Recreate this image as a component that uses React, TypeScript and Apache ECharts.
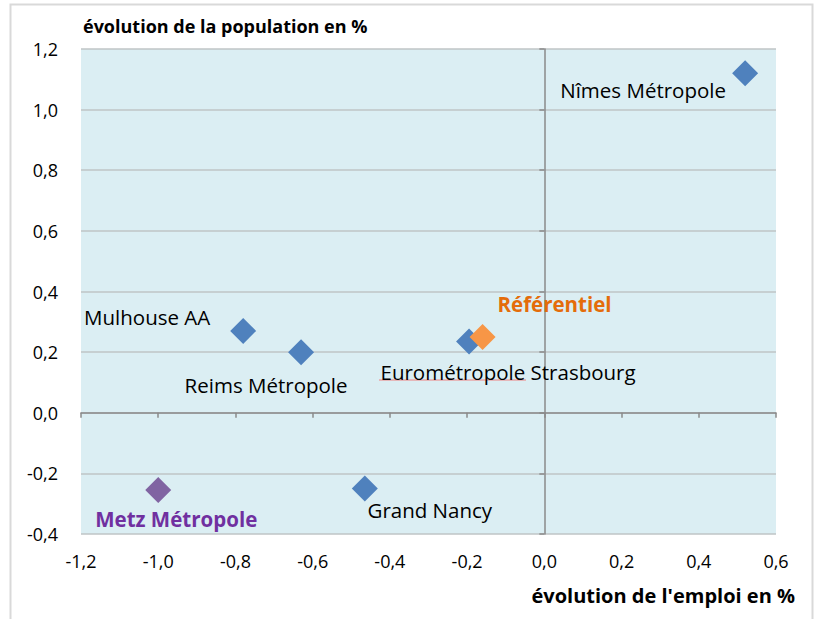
import React, { useEffect, useRef } from "react";
import * as echarts from "echarts";

// ---- data ----
const names = [
  "Nîmes Métropole",
  "Mulhouse AA",
  "Reims Métropole",
  "Eurométropole Strasbourg",
  "Grand Nancy",
  "Metz Métropole",
  "Référentiel",
];
const emploi = [0.52, -0.78, -0.63, -0.195, -0.465, -1.0, -0.16];
const population = [1.12, 0.27, 0.2, 0.235, -0.25, -0.255, 0.25];
const xMin = -1.2;
const xMax = 0.6;
const yMin = -0.4;
const yMax = 1.2;
const step = 0.2;
const yTitle = "évolution de la population en %";
const xTitle = "évolution de l'emploi en %";

// ---- styling ----
const FONT = "'Open Sans', 'Noto Sans', sans-serif";
const BLUE = "#4f81bd";
const ORANGE = "#f79646";
const PURPLE = "#8064a2";
const labelOffsets: Record<string, [number, number]> = {
  "Nîmes Métropole": [-102, 17],
  "Mulhouse AA": [-96, -14],
  "Reims Métropole": [-35, 33],
  "Eurométropole Strasbourg": [39, 30],
  "Grand Nancy": [65, 21],
  "Metz Métropole": [18, 29],
  "Référentiel": [72, -33],
};
const special: Record<string, { color: string; text: string }> = {
  "Metz Métropole": { color: PURPLE, text: "#7030a0" },
  "Référentiel": { color: ORANGE, text: "#e46c0a" },
};

const fmt = (v: number) => v.toFixed(1).replace("-0.0", "0.0").replace(".", ",");

export default function App() {
  const ref = useRef<HTMLDivElement>(null);
  useEffect(() => {
    document.body.style.margin = "0";
    const chart = echarts.init(ref.current!, null, { renderer: "svg" });
    const data = names.map((n, i) => {
      const sp = special[n];
      return {
        name: n,
        value: [emploi[i], population[i]],
        itemStyle: { color: sp ? sp.color : BLUE, opacity: 1 },
        label: {
          show: true,
          position: "inside",
          offset: labelOffsets[n],
          formatter: n,
          color: sp ? sp.text : "#000",
          fontWeight: sp ? "bold" : "normal",
          fontSize: 20.5,
          fontFamily: FONT,
        },
      };
    });
    const axisLineColor = "#8a8a8a";
    chart.setOption({
      animation: false,
      backgroundColor: "#fff",
      grid: {
        left: 81,
        right: 39,
        top: 49,
        bottom: 85,
        show: true,
        backgroundColor: "#dbeef3",
        borderWidth: 0,
      },
      xAxis: [
        {
          type: "value",
          min: xMin,
          max: xMax,
          interval: step,
          position: "bottom",
          axisLine: { show: false, onZero: false },
          axisTick: { show: false },
          splitLine: { show: false },
          axisLabel: {
            formatter: fmt,
            color: "#000",
            fontSize: 18,
            fontFamily: FONT,
            margin: 18,
          },
        },
        {
          type: "value",
          min: xMin,
          max: xMax,
          interval: step,
          position: "bottom",
          axisLine: { show: true, onZero: true, lineStyle: { color: axisLineColor, width: 1.5 } },
          axisTick: { show: true, length: 5, lineStyle: { color: axisLineColor, width: 1.5 } },
          axisLabel: { show: false },
          splitLine: { show: false },
        },
      ],
      yAxis: [
        {
          type: "value",
          min: yMin,
          max: yMax,
          interval: step,
          position: "left",
          axisLine: { show: false, onZero: false },
          axisTick: { show: false },
          splitLine: { show: true, lineStyle: { color: "#bfc4c6", width: 1.5 } },
          axisLabel: {
            formatter: fmt,
            color: "#000",
            fontSize: 18,
            fontFamily: FONT,
            margin: 23,
          },
        },
        {
          type: "value",
          min: yMin,
          max: yMax,
          interval: step,
          position: "left",
          axisLine: { show: true, onZero: true, lineStyle: { color: axisLineColor, width: 1.5 } },
          axisTick: { show: true, length: 5, lineStyle: { color: axisLineColor, width: 1.5 } },
          axisLabel: { show: false },
          splitLine: { show: false },
        },
      ],
      series: [
        {
          type: "scatter",
          xAxisIndex: 0,
          yAxisIndex: 0,
          symbol: "diamond",
          symbolSize: 26,
          itemStyle: { opacity: 1 },
          emphasis: { disabled: true },
          data,
          z: 5,
        },
      ],
      graphic: [
        {
          type: "rect",
          shape: { x: 10.5, y: 4.5, width: 802, height: 640 },
          style: { fill: "none", stroke: "#d9d9d9", lineWidth: 2 },
          silent: true,
          z: 0,
        },
        {
          type: "text",
          left: 83,
          top: 17,
          style: { text: yTitle, font: `bold 18px ${FONT}`, fill: "#000" },
        },
        {
          type: "text",
          right: 20,
          top: 585,
          style: { text: xTitle, font: `bold 20px ${FONT}`, fill: "#000" },
        },
        {
          type: "line",
          shape: { x1: 379, y1: 380, x2: 526, y2: 380 },
          style: { stroke: "#f08080", lineWidth: 1 },
          silent: true,
        },
      ],
    });
    return () => chart.dispose();
  }, []);
  return <div ref={ref} style={{ width: 815, height: 619 }} />;
}
